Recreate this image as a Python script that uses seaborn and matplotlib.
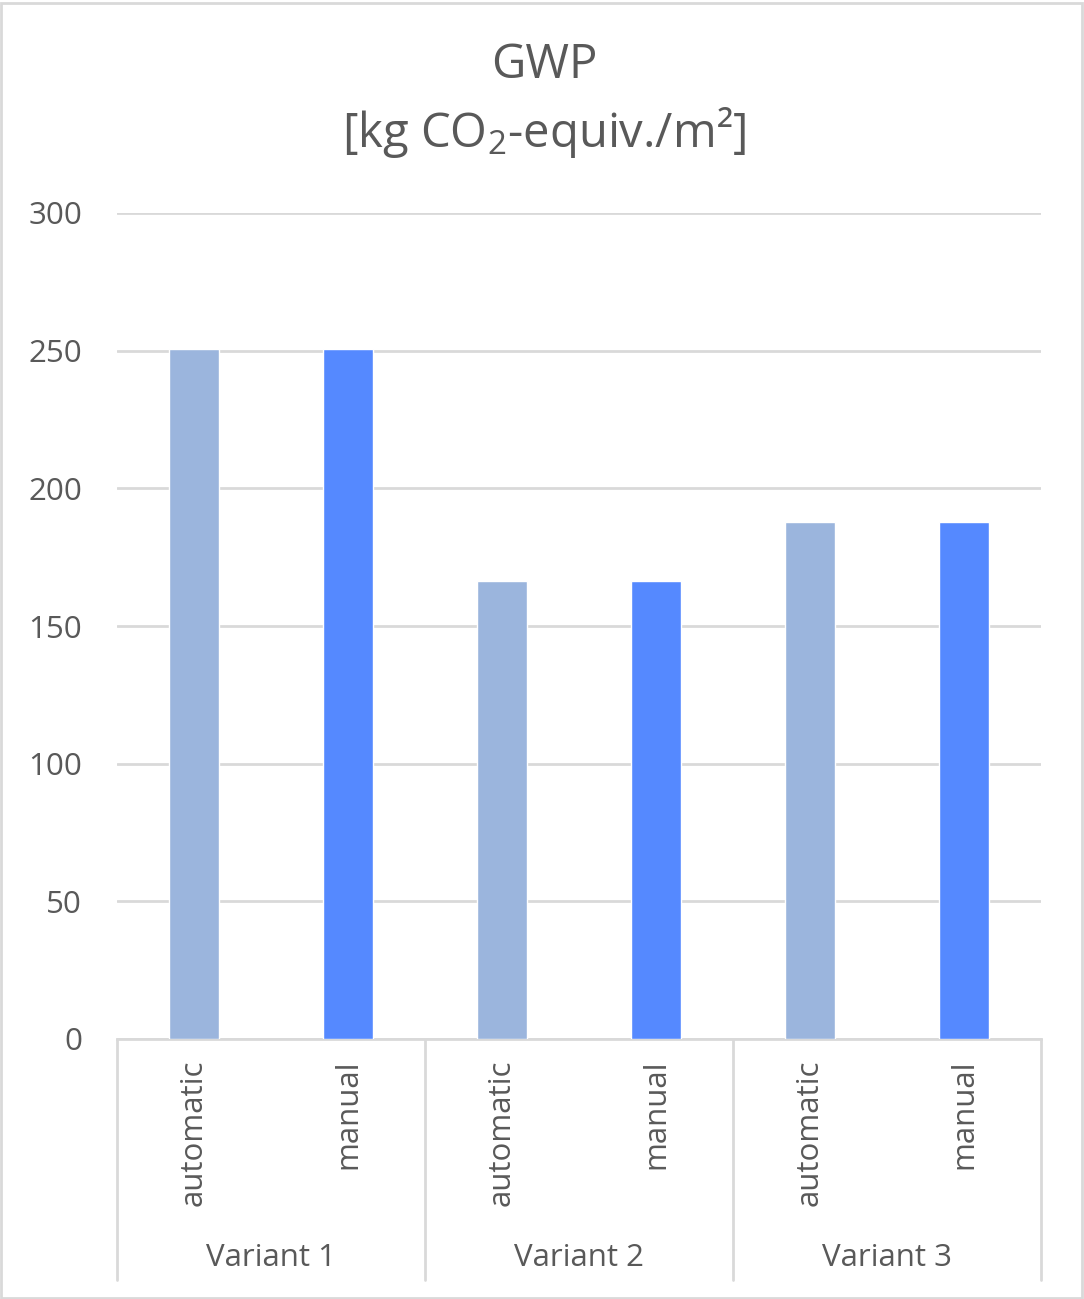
import matplotlib
matplotlib.use("Agg")
import matplotlib.pyplot as plt
import matplotlib.transforms as mtransforms
from matplotlib.patches import Rectangle
import seaborn as sns
import pandas as pd

# ---- data ----
variants = ["Variant 1", "Variant 2", "Variant 3"]
modes = ["automatic", "manual"]
gwp_automatic = [250.5, 166.4, 187.7]
gwp_manual = [250.5, 166.4, 187.7]
y_ticks = [0, 50, 100, 150, 200, 250, 300]

colors = {"automatic": "#9BB5DD", "manual": "#5589FF"}
text_color = "#595959"
grid_color = "#D9D9D9"

rows = []
for v, a, m in zip(variants, gwp_automatic, gwp_manual):
    rows.append({"slot": f"{v} automatic", "variant": v, "mode": "automatic", "value": a})
    rows.append({"slot": f"{v} manual", "variant": v, "mode": "manual", "value": m})
df = pd.DataFrame(rows)
order = list(df["slot"])

sns.set_theme(style="white")
plt.rcParams["font.family"] = ["Open Sans", "DejaVu Sans"]
plt.rcParams["mathtext.fontset"] = "custom"
plt.rcParams["mathtext.rm"] = "Open Sans"
plt.rcParams["mathtext.it"] = "Open Sans"
plt.rcParams["mathtext.bf"] = "Open Sans:bold"

W, H = 1084, 1299
fig = plt.figure(figsize=(W / 100, H / 100), dpi=100)
ax_left, ax_right = 117 / W, 1041 / W
ax_top, ax_bottom = 213 / H, 1039 / H
ax = fig.add_axes([ax_left, 1 - ax_bottom, ax_right - ax_left, ax_bottom - ax_top])

sns.barplot(data=df, x="slot", y="value", hue="mode", order=order,
            palette=colors, dodge=False, width=0.325, legend=False,
            saturation=1, ax=ax, zorder=3)

fs = 22.5
ax.set_xlim(-0.5, len(order) - 0.5)
ax.set_ylim(0, 300)
ax.set_yticks(y_ticks)
ax.set_yticklabels([str(t) for t in y_ticks], fontsize=fs, color=text_color)
ax.yaxis.grid(True, color=grid_color, linewidth=2, zorder=0)
ax.set_axisbelow(True)
ax.tick_params(axis="y", length=0, pad=25)
ax.tick_params(axis="x", length=0, pad=15)
ax.set_xticks(range(len(order)))
ax.set_xticklabels(list(df["mode"]), rotation=90, fontsize=fs, color=text_color)
ax.set_xlabel("")
ax.set_ylabel("")
for s in ["top", "right", "left"]:
    ax.spines[s].set_visible(False)
ax.spines["bottom"].set_color(grid_color)
ax.spines["bottom"].set_linewidth(2)

# category separators and group labels
trans = mtransforms.blended_transform_factory(ax.transData, ax.transAxes)
depth = -(1280 - 1039) / (1039 - 213)
for i in range(len(variants) + 1):
    xsep = -0.5 + 2 * i
    ax.plot([xsep, xsep], [0, depth], transform=trans, color=grid_color,
            linewidth=2, clip_on=False)
for i, v in enumerate(variants):
    ax.text(0.5 + 2 * i, -(1258 - 1039) / (1039 - 213), v, transform=trans,
            ha="center", va="center", fontsize=fs, color=text_color)

# title
fig.text(544 / W, 1 - 65 / H, "GWP", ha="center", va="center",
         fontsize=34, color=text_color)
fig.text(544 / W, 1 - 133 / H, "[kg CO$_2$-equiv./m²]", ha="center", va="center",
         fontsize=34, color=text_color)

# figure border
fig.patches.append(Rectangle((0.001, 0.001), 0.997, 0.997, transform=fig.transFigure,
                             fill=False, edgecolor=grid_color, linewidth=2))

fig.savefig("out.png", dpi=100)
